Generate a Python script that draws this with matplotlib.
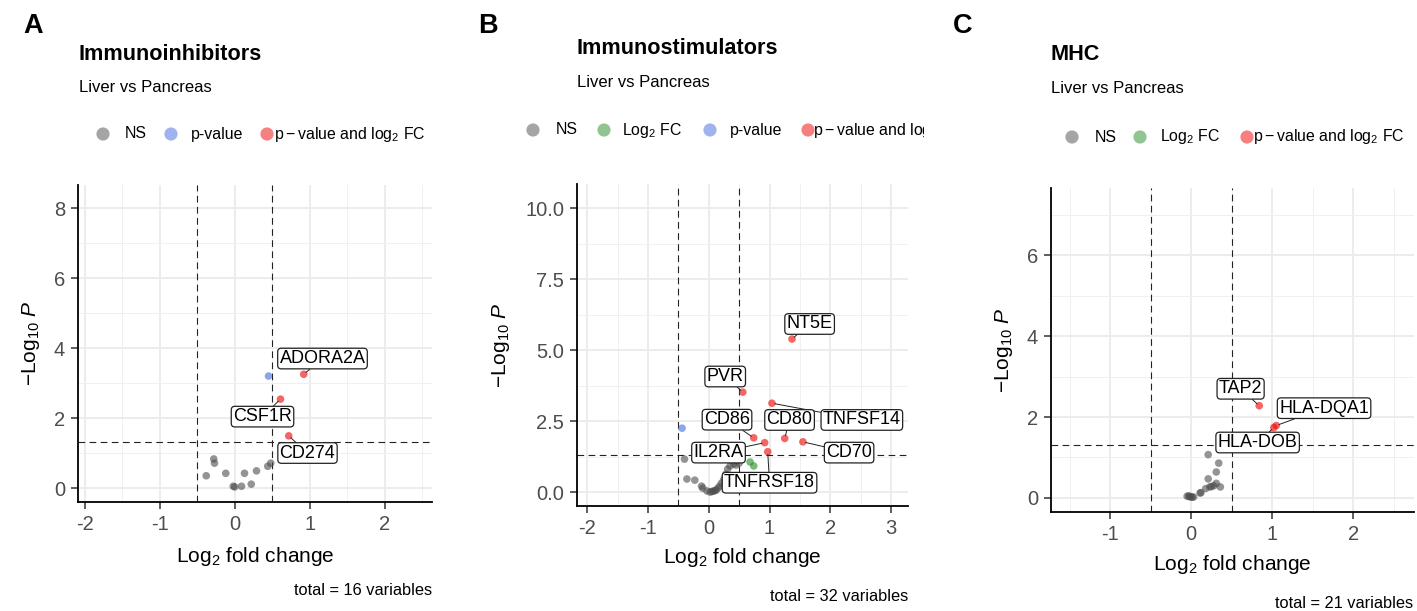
import matplotlib
matplotlib.use("Agg")
import matplotlib.pyplot as plt
import numpy as np

plt.rcParams['font.family'] = ['Liberation Sans', 'DejaVu Sans']
plt.rcParams['mathtext.fontset'] = 'custom'
plt.rcParams['mathtext.rm'] = 'Liberation Sans'
plt.rcParams['mathtext.it'] = 'Liberation Sans:italic'
plt.rcParams['mathtext.bf'] = 'Liberation Sans:bold'

# ---- data ----
# Immunoinhibitors
inhib_x = [0.92, 0.61, 0.72, 0.45,
           -0.28, -0.27, -0.38, -0.12, -0.02, 0.00, 0.09, 0.13, 0.22, 0.29, 0.44, 0.48]
inhib_y = [3.25, 2.54, 1.49, 3.20,
           0.83, 0.71, 0.35, 0.42, 0.05, 0.03, 0.05, 0.42, 0.11, 0.49, 0.62, 0.71]
inhib_cat = ['both', 'both', 'both', 'p'] + ['NS'] * 12
inhib_genes = ['ADORA2A', 'CSF1R', 'CD274']

# Immunostimulators
stim_x = [1.37, 0.56, 1.04, 1.25, 0.74, 0.92, 0.97, 1.55,
          -0.44, 0.68, 0.74,
          -0.40, -0.36, -0.23, -0.12, -0.10, -0.03, 0.02, 0.07, 0.12, 0.15, 0.18,
          0.21, 0.25, 0.28, 0.31, 0.35, 0.41, 0.45, 0.50, 0.05, 0.10]
stim_y = [5.39, 3.52, 3.13, 1.89, 1.91, 1.74, 1.42, 1.77,
          2.25, 1.06, 0.92,
          1.16, 0.46, 0.42, 0.21, 0.14, 0.04, 0.00, 0.03, 0.07, 0.14, 0.21,
          0.32, 0.46, 0.63, 0.81, 0.92, 0.99, 0.95, 1.02, 0.02, 0.05]
stim_cat = ['both'] * 8 + ['p'] + ['fc'] * 2 + ['NS'] * 21
stim_genes = ['NT5E', 'PVR', 'TNFSF14', 'CD80', 'CD86', 'IL2RA', 'TNFRSF18', 'CD70']

# MHC
mhc_x = [0.84, 1.05, 1.02,
         0.21, 0.34, 0.31, 0.21, 0.31, 0.36, 0.23, 0.18, 0.12, 0.11,
         -0.05, -0.02, 0.01, 0.03, 0.25, 0.28, -0.03, 0.00]
mhc_y = [2.28, 1.79, 1.74,
         1.07, 0.86, 0.64, 0.47, 0.36, 0.27, 0.27, 0.23, 0.13, 0.12,
         0.04, 0.03, 0.02, 0.02, 0.28, 0.30, 0.05, 0.02]
mhc_cat = ['both'] * 3 + ['NS'] * 18
mhc_genes = ['TAP2', 'HLA-DQA1', 'HLA-DOB']

FC_CUT = 0.5
P_CUT = 0.05

# ---- layout / style ----
W, H = 1417, 611
colors = {'NS': '#4d4d4d', 'fc': '#228b22', 'p': '#4169e1', 'both': '#ee0000'}
leg_names = {'NS': 'NS', 'fc': r'$\mathrm{Log_{2}\ FC}$', 'p': 'p-value',
             'both': r'$\mathrm{p - value\ and\ log_{2}\ FC}$'}

panels = [
    dict(letter='A', title='Immunoinhibitors', x=inhib_x, y=inhib_y, cat=inhib_cat,
         genes=inhib_genes,
         text_at={'ADORA2A': (1.17, 3.70), 'CSF1R': (0.37, 2.04), 'CD274': (0.97, 1.00)},
         box=(78, 185, 432, 502), xlim=(-2.09, 2.63), ylim=(-0.40, 8.66),
         xmaj=1, ymaj=2, col=(0, 465), letter_x=23, title_x=79,
         title_y=60, sub_y=92, leg_y=134,
         legend=[('NS', 103, 125), ('p', 171, 191), ('both', 267, 274)],
         ylab_x=-0.102, xlab_y=-0.136, cap_y=595, n=16),
    dict(letter='B', title='Immunostimulators', x=stim_x, y=stim_y, cat=stim_cat,
         genes=stim_genes,
         text_at={'NT5E': (1.66, 5.92), 'PVR': (0.27, 4.07), 'CD86': (0.30, 2.55),
                  'CD80': (1.33, 2.54), 'TNFSF14': (2.52, 2.54), 'IL2RA': (0.16, 1.39),
                  'CD70': (2.31, 1.39), 'TNFRSF18': (1.00, 0.33)},
         box=(577, 184, 908, 506), xlim=(-2.17, 3.28), ylim=(-0.49, 10.85),
         xmaj=1, ymaj=2.5, col=(465, 924), letter_x=478, title_x=577,
         title_y=54, sub_y=87, leg_y=130,
         legend=[('NS', 533, 556), ('fc', 604, 622), ('p', 710, 730), ('both', 808, 813)],
         ylab_x=-0.196, xlab_y=-0.124, cap_y=601, n=32),
    dict(letter='C', title='MHC', x=mhc_x, y=mhc_y, cat=mhc_cat,
         genes=mhc_genes,
         text_at={'TAP2': (0.61, 2.70), 'HLA-DQA1': (1.64, 2.22), 'HLA-DOB': (0.82, 1.37)},
         box=(1051, 188, 1414, 512), xlim=(-1.73, 2.75), ylim=(-0.35, 7.67),
         xmaj=1, ymaj=2, col=(940, 1417), letter_x=953, title_x=1051,
         title_y=60, sub_y=93, leg_y=137,
         legend=[('NS', 1072, 1095), ('fc', 1140, 1160), ('both', 1247, 1253)],
         ylab_x=-0.099, xlab_y=-0.127, cap_y=608, n=21),
]

fig = plt.figure(figsize=(W / 100, H / 100), dpi=100)

for pnl in panels:
    l, t, r, b = pnl['box']
    ax = fig.add_axes([l / W, (H - b) / H, (r - l) / W, (b - t) / H])
    ax.set_xlim(pnl['xlim'])
    ax.set_ylim(pnl['ylim'])

    # grid like ggplot
    ax.xaxis.set_major_locator(plt.MultipleLocator(pnl['xmaj']))
    ax.yaxis.set_major_locator(plt.MultipleLocator(pnl['ymaj']))
    ax.xaxis.set_minor_locator(plt.MultipleLocator(pnl['xmaj'] / 2))
    ax.yaxis.set_minor_locator(plt.MultipleLocator(pnl['ymaj'] / 2))
    ax.grid(which='major', color='#ebebeb', lw=1.3)
    ax.grid(which='minor', color='#f0f0f0', lw=0.7)
    ax.set_axisbelow(True)
    ax.tick_params(which='minor', length=0)
    ax.tick_params(which='major', length=5, width=1.1, color='#333333',
                   labelsize=14.5, labelcolor='#4d4d4d', pad=4.3)
    if pnl['ymaj'] == 2.5:
        ax.yaxis.set_major_formatter(plt.FormatStrFormatter('%.1f'))
    else:
        ax.yaxis.set_major_formatter(plt.FormatStrFormatter('%d'))
    ax.xaxis.set_major_formatter(plt.FuncFormatter(lambda v, _: '%d' % v if v >= 0 else '-%d' % -v))
    for s in ['top', 'right']:
        ax.spines[s].set_visible(False)
    for s in ['left', 'bottom']:
        ax.spines[s].set_linewidth(1.3)
        ax.spines[s].set_color('black')

    # cut-off lines
    for v in (-FC_CUT, FC_CUT):
        ax.axvline(v, color='#222222', lw=0.8, ls=(0, (6, 4)), zorder=1)
    ax.axhline(-np.log10(P_CUT), color='#222222', lw=0.8, ls=(0, (6, 4)), zorder=1)

    xs = np.array(pnl['x'])
    ys = np.array(pnl['y'])
    cs = [colors[c] for c in pnl['cat']]
    ax.scatter(xs, ys, s=30, c=cs, alpha=0.6, edgecolors='none', zorder=2)

    # labelled genes (first points of each panel, in order)
    for i, g in enumerate(pnl['genes']):
        tx, ty = pnl['text_at'][g]
        ax.annotate(g, xy=(xs[i], ys[i]), xytext=(tx, ty), ha='center', va='center',
                    fontsize=13, zorder=5,
                    bbox=dict(boxstyle='round,pad=0.1,rounding_size=0.2', fc='white',
                              ec='#222222', lw=0.9),
                    arrowprops=dict(arrowstyle='-', color='#222222', lw=0.7,
                                    shrinkA=0, shrinkB=2))

    ax.set_xlabel(r'$\mathrm{Log_{2}}$ fold change', fontsize=15)
    ax.set_ylabel(r'$-\mathrm{Log}_{10}\ \mathit{P}$', fontsize=15)
    ax.yaxis.set_label_coords(pnl['ylab_x'], 0.5)
    ax.xaxis.set_label_coords(0.5, pnl['xlab_y'])

    # header, legend and caption in pixel space, clipped to the panel column
    c0, c1 = pnl['col']
    ov = fig.add_axes([c0 / W, 0, (c1 - c0) / W, 1])
    ov.set_xlim(c0, c1)
    ov.set_ylim(H, 0)
    ov.axis('off')
    ov.text(pnl['letter_x'], 33, pnl['letter'], fontsize=19.5, fontweight='bold',
            va='baseline', clip_on=True)
    ov.text(pnl['title_x'], pnl['title_y'], pnl['title'], fontsize=15.6,
            fontweight='bold', va='baseline', clip_on=True)
    ov.text(pnl['title_x'], pnl['sub_y'], 'Liver vs Pancreas', fontsize=12,
            va='baseline', clip_on=True)
    for key, mx, tx in pnl['legend']:
        ov.scatter([mx], [pnl['leg_y']], s=90, color=colors[key], alpha=0.5,
                   edgecolors='none', clip_on=True)
        ov.text(tx, pnl['leg_y'], leg_names[key], fontsize=11.4, va='center',
                clip_on=True)
    ov.text(r if pnl['letter'] != 'C' else 1413, pnl['cap_y'],
            'total = %d variables' % pnl['n'], fontsize=11.8, ha='right',
            va='baseline', clip_on=True)

fig.savefig('out.png', dpi=100)
